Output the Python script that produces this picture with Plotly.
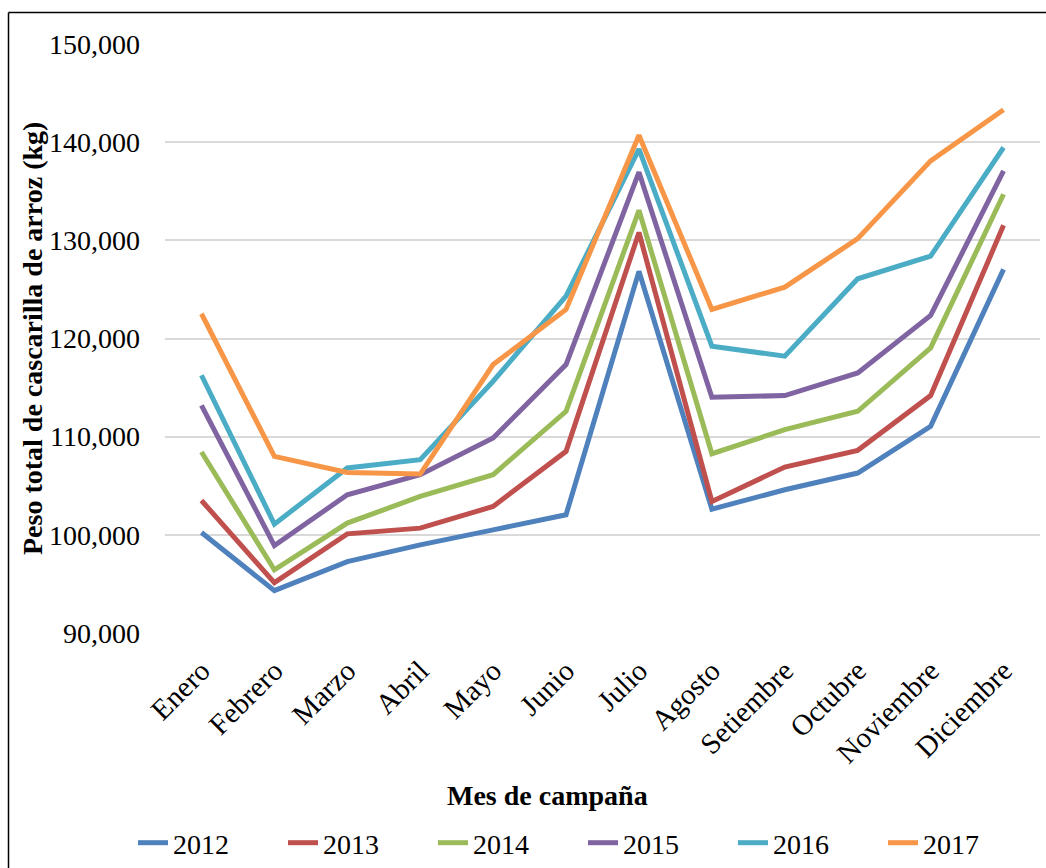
import plotly.graph_objects as go

months = ["Enero", "Febrero", "Marzo", "Abril", "Mayo", "Junio", "Julio",
          "Agosto", "Setiembre", "Octubre", "Noviembre", "Diciembre"]

y2012 = [100235, 94316, 97276, 98980, 100510, 102041, 126840, 102619, 104592, 106293, 111054, 127041]
y2013 = [103500, 95133, 100102, 100684, 102891, 108503, 130800, 103398, 106905, 108605, 114184, 131531]
y2014 = [108439, 96429, 101194, 103908, 106122, 112585, 133060, 108265, 110714, 112585, 119048, 134694]
y2015 = [113194, 98908, 104082, 106122, 109864, 117347, 136940, 114010, 114184, 116497, 122347, 137075]
y2016 = [116255, 101092, 106806, 107653, 115646, 124320, 139300, 119214, 118197, 126088, 128401, 139456]
y2017 = [122520, 107990, 106357, 106194, 117347, 122959, 140700, 122959, 125235, 130170, 138095, 143300]

series = [
    ("2012", y2012, "#4F81BD"),
    ("2013", y2013, "#C0504D"),
    ("2014", y2014, "#9BBB59"),
    ("2015", y2015, "#8064A2"),
    ("2016", y2016, "#4BACC6"),
    ("2017", y2017, "#F79646"),
]

FONT = "Liberation Serif"

fig = go.Figure()
for name, vals, color in series:
    fig.add_trace(go.Scatter(
        x=months, y=vals, name=name, mode="lines",
        line=dict(color=color, width=5),
    ))

W, H = 1046, 868
L, R, T, B = 165, 6, 44, 235
pw = W - L - R
ph = H - T - B

def px_x(p):
    return (p - L) / pw

def px_y(p):
    return (H - B - p) / ph

fig.update_layout(
    width=W, height=H,
    margin=dict(l=L, r=R, t=T, b=B, autoexpand=False),
    paper_bgcolor="white", plot_bgcolor="white",
    font=dict(family=FONT, size=28, color="black"),
    showlegend=True,
    legend=dict(
        orientation="h",
        x=px_x(133), xanchor="left",
        y=px_y(843), yanchor="middle",
        entrywidth=105, entrywidthmode="pixels",
        font=dict(family=FONT, size=28, color="black"),
        bgcolor="rgba(0,0,0,0)",
    ),
    xaxis=dict(
        type="category",
        range=[-0.5, 11.5],
        tickangle=-45,
        showgrid=False, zeroline=False, showline=False,
        ticks="", ticklabelstandoff=14,
        automargin=False,
        tickfont=dict(family=FONT, size=29, color="black"),
    ),
    yaxis=dict(
        range=[90000, 150000],
        dtick=10000,
        tickformat=",",
        showgrid=True, gridcolor="#D9D9D9", gridwidth=1.5,
        zeroline=False, showline=False,
        ticks="", ticklabelstandoff=24,
        automargin=False,
        tickfont=dict(family=FONT, size=28, color="black"),
    ),
    annotations=[
        dict(text="<b>Mes de campaña</b>", xref="paper", yref="paper",
             x=px_x(547), y=px_y(795), xanchor="center", yanchor="middle",
             showarrow=False, font=dict(family=FONT, size=28, color="black")),
        dict(text="<b>Peso total de cascarilla de arroz (kg)</b>", xref="paper", yref="paper",
             x=px_x(32), y=px_y(339), xanchor="center", yanchor="middle",
             textangle=-90,
             showarrow=False, font=dict(family=FONT, size=28, color="black")),
    ],
    shapes=[
        dict(type="line", xref="paper", yref="paper",
             x0=px_x(8.5), x1=px_x(8.5), y0=px_y(870), y1=px_y(12.5),
             line=dict(color="black", width=1.5)),
        dict(type="line", xref="paper", yref="paper",
             x0=px_x(8.5), x1=px_x(1050), y0=px_y(12.5), y1=px_y(12.5),
             line=dict(color="black", width=1.5)),
    ],
)

fig.write_html(
    "out.html",
    config={"displayModeBar": False},
    post_script="document.body.style.margin='0';document.body.style.overflow='hidden';",
)
